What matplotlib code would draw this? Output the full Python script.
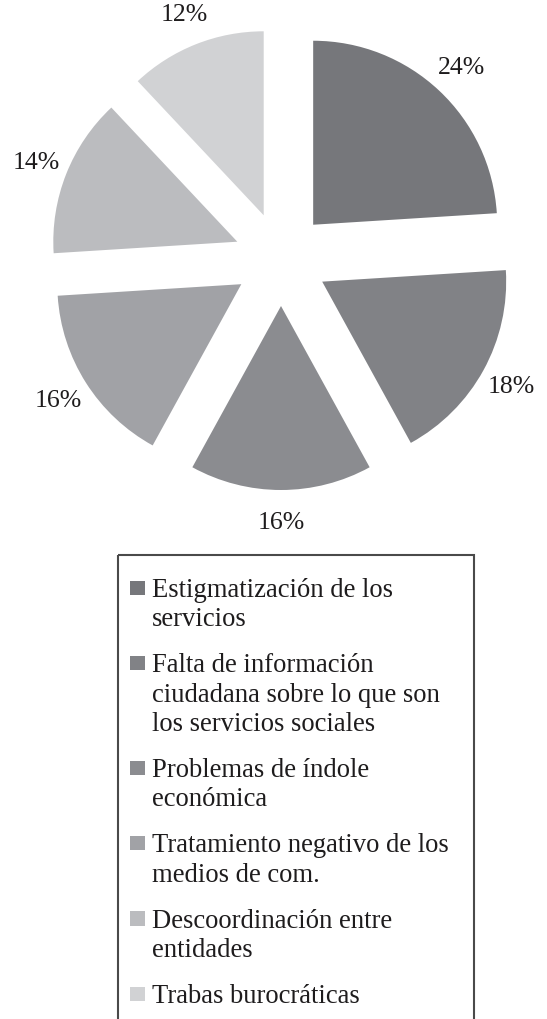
import matplotlib
matplotlib.use("Agg")
import matplotlib.pyplot as plt
from matplotlib.patches import Rectangle

# ---- data ----
categories = [
    "Estigmatización de los servicios",
    "Falta de información ciudadana sobre lo que son los servicios sociales",
    "Problemas de índole económica",
    "Tratamiento negativo de los medios de com.",
    "Descoordinación entre entidades",
    "Trabas burocráticas",
]
legend_lines = [
    ["Estigmatización de los", "servicios"],
    ["Falta de información", "ciudadana sobre lo que son", "los servicios sociales"],
    ["Problemas de índole", "económica"],
    ["Tratamiento negativo de los", "medios de com."],
    ["Descoordinación entre", "entidades"],
    ["Trabas burocráticas"],
]
values = [24, 18, 16, 16, 14, 12]
colors = ["#76777b", "#818286", "#8b8c90", "#a1a2a6", "#bbbcbf", "#d1d2d4"]

W, H = 547, 1020
plt.rcParams['font.family'] = ['Liberation Serif', 'DejaVu Serif']

fig = plt.figure(figsize=(W / 100, H / 100), dpi=100)

# pie axes in pixel-like units, y up
ax = fig.add_axes([0, 0, 1, 1])
R = 184
cx, cy = 281, H - 260
wedges, _t, autotexts = ax.pie(
    values, colors=colors, startangle=90, counterclock=False,
    explode=[47] * len(values), radius=R, center=(cx, cy),
    autopct=lambda p: f"{p:.0f}%", pctdistance=1.175,
    wedgeprops=dict(linewidth=0),
    textprops=dict(fontsize=18.5, color="#1e1c1d"),
)
ax.set_xlim(0, W)
ax.set_ylim(0, H)
ax.set_aspect('auto')
ax.axis('off')

# legend drawn in pixel coordinates (y down)
lax = fig.add_axes([0, 0, 1, 1])
lax.set_xlim(0, W)
lax.set_ylim(H, 0)
lax.axis('off')

lax.add_patch(Rectangle((118, 556), 474 - 118, 520, fill=False,
                        edgecolor="#4a4a4a", linewidth=1.5, clip_on=False))

line_h = 29.2
gap = 17
y = 597
for lines, w in zip(legend_lines, wedges):
    lax.add_patch(Rectangle((130, y - 15.5), 14.5, 14.5,
                            facecolor=w.get_facecolor(), edgecolor='none'))
    for k, ln in enumerate(lines):
        lax.text(152, y + k * line_h, ln, fontsize=19.2, ha='left',
                 va='baseline', color="#1e1c1d")
    y += len(lines) * line_h + gap

fig.savefig("out.png", dpi=100)
